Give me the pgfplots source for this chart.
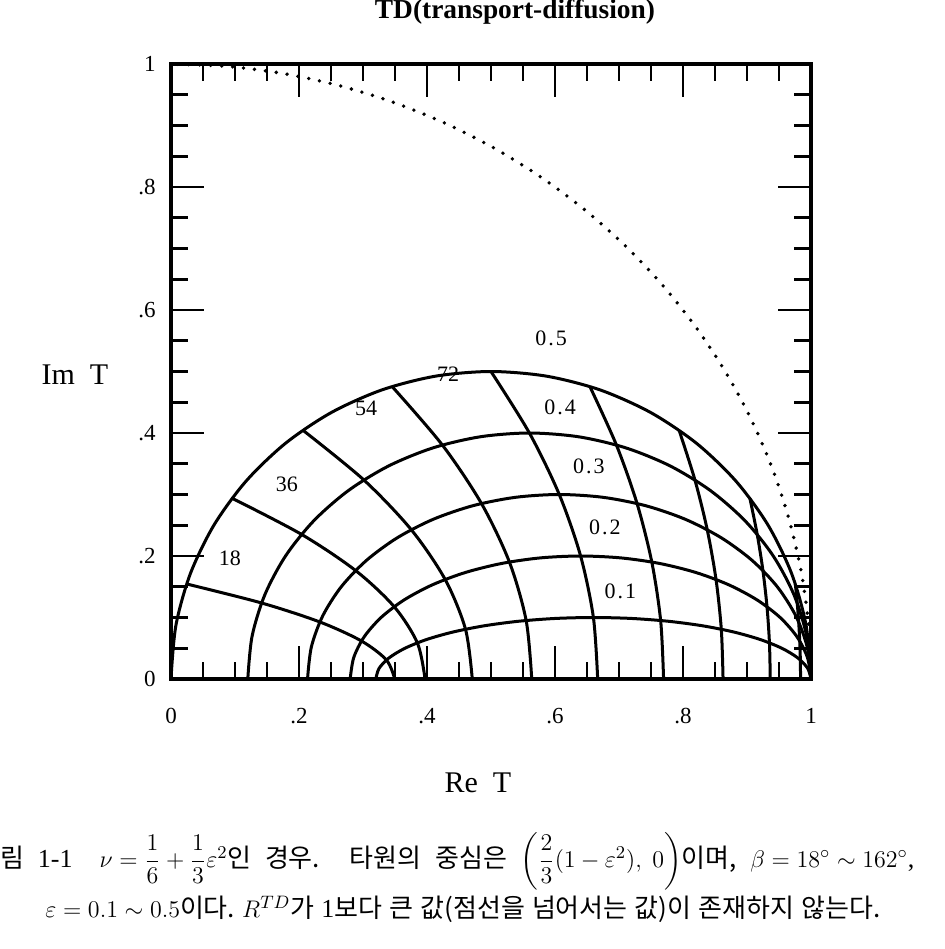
\documentclass[border=0pt]{standalone}
\usepackage{amsmath}
\usepackage{pgfplots}
\pgfplotsset{compat=1.18}
\usepackage{fontspec}
\setmainfont{Liberation Serif}
\newfontfamily\kr{Noto Sans CJK KR}

\begin{document}
\begin{tikzpicture}
\begin{axis}[
  width=320pt, height=307.5pt, scale only axis,
  xmin=0, xmax=1, ymin=0, ymax=1,
  axis line style={line width=1.7pt},
  tick pos=both, tick align=inside,
  xtick={0,0.2,0.4,0.6,0.8,1}, xticklabels={0,.2,.4,.6,.8,1},
  ytick={0,0.2,0.4,0.6,0.8,1}, yticklabels={0,.2,.4,.6,.8,1},
  minor tick num=3,
  major tick length=16.5pt, minor tick length=8.5pt,
  every tick/.style={black, line width=1.4pt},
  xticklabel pos=left, yticklabel pos=left,
  xticklabel style={anchor=base, inner sep=0pt, yshift=-22pt, font=\fontsize{11.5}{13}\selectfont},
  yticklabel style={anchor=east, inner sep=0pt, xshift=-7.5pt, font=\fontsize{11.5}{13}\selectfont},
  curve/.style={black, line width=1.5pt, smooth, mark=none},
]
% ellipses eps = 0.1 ... 0.5
\addplot[curve] coordinates {(1,0) (0.99484,0.01737) (0.97949,0.03420) (0.95445,0.05) (0.92045,0.06428) (0.87855,0.07660) (0.83,0.08660) (0.77629,0.09397) (0.71904,0.09848) (0.66,0.1) (0.60096,0.09848) (0.54371,0.09397) (0.49,0.08660) (0.44145,0.07660) (0.39955,0.06428) (0.36555,0.05) (0.34051,0.03420) (0.32516,0.01737) (0.32,0)};
\addplot[curve] coordinates {(1,0) (0.99453,0.03473) (0.97829,0.06840) (0.95177,0.1) (0.91577,0.12856) (0.87140,0.15321) (0.82,0.17321) (0.76313,0.18794) (0.70251,0.19696) (0.64,0.2) (0.57749,0.19696) (0.51687,0.18794) (0.46,0.17321) (0.40860,0.15321) (0.36423,0.12856) (0.32823,0.1) (0.30171,0.06840) (0.28547,0.03473) (0.28,0)};
\addplot[curve] coordinates {(1,0) (0.99403,0.05210) (0.97628,0.10261) (0.94731,0.15) (0.90798,0.19284) (0.85950,0.22981) (0.80334,0.25981) (0.74120,0.28191) (0.67497,0.29544) (0.60667,0.3) (0.53837,0.29544) (0.47214,0.28191) (0.41,0.25981) (0.35384,0.22981) (0.30536,0.19284) (0.26603,0.15) (0.23706,0.10261) (0.21931,0.05210) (0.21334,0)};
\addplot[curve] coordinates {(1,0) (0.99332,0.06946) (0.97346,0.13681) (0.94105,0.2) (0.89706,0.25712) (0.84283,0.30642) (0.78,0.34641) (0.71049,0.37588) (0.63641,0.39392) (0.56,0.4) (0.48359,0.39392) (0.40951,0.37588) (0.34,0.34641) (0.27717,0.30642) (0.22294,0.25712) (0.17895,0.2) (0.14654,0.13681) (0.12668,0.06946) (0.12,0)};
\addplot[curve] coordinates {(1,0) (0.99240,0.08682) (0.96985,0.17101) (0.93301,0.25) (0.88302,0.32139) (0.82139,0.38302) (0.75,0.43301) (0.67101,0.46985) (0.58682,0.49240) (0.5,0.5) (0.41318,0.49240) (0.32899,0.46985) (0.25,0.43301) (0.17861,0.38302) (0.11698,0.32139) (0.06699,0.25) (0.03015,0.17101) (0.00760,0.08682) (0,0)};
% constant beta lines, beta = 18 ... 162 deg
\addplot[curve] coordinates {(0.98369,0) (0.98336,0.03090) (0.98238,0.06180) (0.98075,0.09271) (0.97847,0.12361) (0.97553,0.15451)};
\addplot[curve] coordinates {(0.93634,0) (0.93507,0.05878) (0.93125,0.11756) (0.92488,0.17634) (0.91597,0.23512) (0.90451,0.29389)};
\addplot[curve] coordinates {(0.86260,0) (0.85985,0.08090) (0.85160,0.16180) (0.83786,0.24271) (0.81863,0.32361) (0.79389,0.40451)};
\addplot[curve] coordinates {(0.76967,0) (0.76507,0.09511) (0.75125,0.19021) (0.72821,0.28532) (0.69597,0.38042) (0.65451,0.47553)};
\addplot[curve] coordinates {(0.66667,0) (0.66,0.1) (0.64,0.2) (0.60667,0.3) (0.56,0.4) (0.5,0.5)};
\addplot[curve] coordinates {(0.56366,0) (0.55493,0.09511) (0.52875,0.19021) (0.48512,0.28532) (0.42403,0.38042) (0.34549,0.47553)};
\addplot[curve] coordinates {(0.47074,0) (0.46015,0.08090) (0.42840,0.16180) (0.37547,0.24271) (0.30137,0.32361) (0.20611,0.40451)};
\addplot[curve] coordinates {(0.39699,0) (0.38493,0.05878) (0.34875,0.11756) (0.28845,0.17634) (0.20403,0.23512) (0.09549,0.29389)};
\addplot[curve] coordinates {(0.34965,0) (0.33664,0.03090) (0.29762,0.06180) (0.23258,0.09271) (0.14153,0.12361) (0.02447,0.15451)};
% unit circle, dotted
\addplot[black, line width=1.9pt, smooth, mark=none, line cap=round, dash pattern=on 0pt off 5.5pt] coordinates {(1,0) (0.99619,0.08716) (0.98481,0.17365) (0.96593,0.25882) (0.93969,0.34202) (0.90631,0.42262) (0.86603,0.5) (0.81915,0.57358) (0.76604,0.64279) (0.70711,0.70711) (0.64279,0.76604) (0.57358,0.81915) (0.5,0.86603) (0.42262,0.90631) (0.34202,0.93969) (0.25882,0.96593) (0.17365,0.98481) (0.08716,0.99619) (0,1)};
% labels
\begin{scope}[every node/.style={font=\fontsize{11}{13}\selectfont, inner sep=0pt}]
\node at (axis cs:0.594,0.554) {0\kern1pt.\kern1pt5};
\node at (axis cs:0.608,0.441) {0\kern1pt.\kern1pt4};
\node at (axis cs:0.653,0.345) {0\kern1pt.\kern1pt3};
\node at (axis cs:0.678,0.247) {0\kern1pt.\kern1pt2};
\node at (axis cs:0.702,0.143) {0\kern1pt.\kern1pt1};
\node at (axis cs:0.433,0.496) {72};
\node at (axis cs:0.305,0.440) {54};
\node at (axis cs:0.181,0.317) {36};
\node at (axis cs:0.092,0.197) {18};
\end{scope}
\end{axis}
% title
\node[anchor=base, inner sep=0pt, font=\fontsize{13.7}{16}\selectfont\bfseries] at (172pt,330pt) {TD(transport-diffusion)};
% axis labels
\node[anchor=base, inner sep=0pt, font=\fontsize{15}{18}\selectfont] at (-48pt,147.5pt) {Im~~T};
\node[anchor=base, inner sep=0pt, font=\fontsize{15}{18}\selectfont] at (153.5pt,-56.5pt) {Re~~T};
% caption
\node[anchor=base west, inner sep=0pt, font=\fontsize{13}{15}\selectfont] at (-85.5pt,-94pt) {\makebox[457pt][s]{{\kr 림} 1-1 \ \mbox{$\nu=\dfrac{1}{6}+\dfrac{1}{3}\varepsilon^2${\kr 인}} {\kr 경우.} {\kr 타원의} {\kr 중심은} \mbox{$\left(\dfrac{2}{3}(1-\varepsilon^2),\ 0\right)${\kr 이며,}} \mbox{$\beta=18^\circ\sim162^\circ$,}}};
\node[anchor=base west, inner sep=0pt, font=\fontsize{13}{15}\selectfont] at (-63pt,-119pt) {\makebox[417.5pt][s]{\mbox{$\varepsilon=0.1\sim0.5${\kr 이다.}} \mbox{$R^{TD}${\kr 가}} \mbox{1{\kr 보다}} {\kr 큰} {\kr 값(점선을} {\kr 넘어서는} {\kr 값)이} {\kr 존재하지} {\kr 않는다.}}};
\pgfresetboundingbox
\useasboundingbox (-85.5pt,-135pt) rectangle (386.5pt,339.5pt);
\end{tikzpicture}
\end{document}
